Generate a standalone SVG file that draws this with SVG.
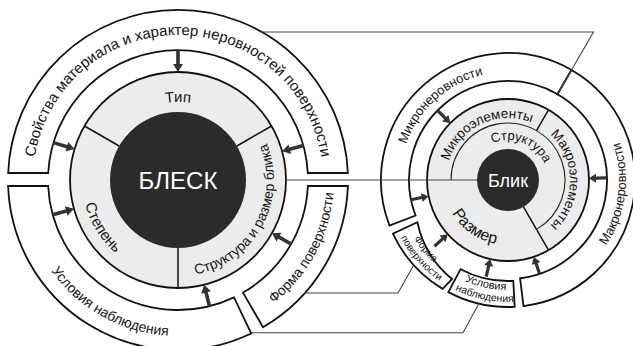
<svg xmlns="http://www.w3.org/2000/svg" width="633" height="346" viewBox="0 0 633 346">
<style>
.ring{fill:#fff;stroke:#111;stroke-width:1.8}
.grey{fill:#ececec;stroke:#111;stroke-width:1.8}
.dark{fill:#2b2b2b}
.div{stroke:#111;stroke-width:1.5;fill:none}
.thin{stroke:#222;stroke-width:1.1;fill:none}
.conn{stroke:#444;stroke-width:1.1;fill:none}
.arr{fill:#333}
text{font-family:"Liberation Sans",Arial,sans-serif;fill:#151515}
.w{fill:#fff}
</style>
<defs>
<path id="arL" d="M0,0 L8,-5 L8,-1.8 L22,-1.8 L22,1.8 L8,1.8 L8,5 Z"/>
<path id="arR" d="M0,0 L7,-4.5 L7,-1.6 L18,-1.6 L18,1.6 L7,1.6 L7,4.5 Z"/>
<!-- left text paths (local to 178,180) -->
<path id="tpSv" d="M-144.45,12.64 A145,145 0 1,1 144.45,12.64"/>
<path id="tpUs" d="M-155.41,13.6 A156,156 0 0,0 70.82,139"/>
<path id="tpFo" d="M78,135.1 A156,156 0 0,0 155.79,-8.16"/>
<path id="tpTip" d="M-67.55,-39 A78,78 0 0,1 67.55,-39"/>
<path id="tpSt" d="M-84.76,-45.07 A96,96 0 0,0 3.35,95.94"/>
<path id="tpSr" d="M2.51,95.97 A96,96 0 0,0 81.85,-50.16"/>
<!-- right text paths (local to 508,180) -->
<path id="tpStr" d="M-32.36,-23.51 A40,40 0 0,1 39.78,4.18"/>
<path id="tpMikE" d="M-59.89,16.05 A62,62 0 0,1 50.79,-35.56"/>
<path id="tpMakE" d="M21.2,-58.26 A62,62 0 0,1 21.2,58.26"/>
<path id="tpRaz" d="M-64.75,5.67 A65,65 0 0,0 16.82,62.79"/>
<path id="tpMikN" d="M-93.53,54 A108,108 0 0,1 63.48,-87.37"/>
<path id="tpMakN" d="M20.49,116.2 A118,118 0 0,0 49.87,-106.94"/>
<path id="tpF1" d="M-110.58,9.67 A111,111 0 0,0 -28.73,107.22"/>
<path id="tpF2" d="M-121.09,14.87 A122,122 0 0,0 -27.44,118.87"/>
<path id="tpU1" d="M-80.45,75.02 A110,110 0 0,0 42.98,101.26"/>
<path id="tpU2" d="M-88.5,83.98 A122,122 0 0,0 48.65,111.88"/>
</defs>

<g transform="translate(178,180)">
  <g id="svoistva">
    <path class="ring" d="M-169.86,-7 A170,170 0 0,1 169.86,-7 L129.81,-7 A130,130 0 0,0 -129.81,-7 Z"/>
    <text font-size="15"><textPath href="#tpSv" startOffset="50%" text-anchor="middle">Свойства материала и характер неровностей поверхности</textPath></text>
  </g>
  <g id="usloviya">
    <path class="ring" d="M-169.89,6 A170,170 0 0,0 73.19,153.44 L55.97,117.33 A130,130 0 0,1 -129.86,6 Z"/>
    <text font-size="14"><textPath href="#tpUs" startOffset="50%" text-anchor="middle">Условия наблюдения</textPath></text>
  </g>
  <g id="forma">
    <path class="ring" d="M169.89,6 A170,170 0 0,1 85,147.22 L65,112.58 A130,130 0 0,0 129.86,6 Z"/>
    <text font-size="14"><textPath href="#tpFo" startOffset="50%" text-anchor="middle">Форма поверхности</textPath></text>
  </g>
  <g id="blesk">
    <circle class="grey" r="108"/>
    <path class="div" d="M-58.89,-34 L-93.53,-54 M58.89,-34 L93.53,-54 M0,68 L0,108"/>
    <circle class="dark" r="68"/>
    <text class="w" y="9" font-size="24" text-anchor="middle">БЛЕСК</text>
    <text font-size="15"><textPath href="#tpTip" startOffset="50%" text-anchor="middle">Тип</textPath></text>
    <text font-size="15"><textPath href="#tpSt" startOffset="50%" text-anchor="middle">Степень</textPath></text>
    <text font-size="14"><textPath href="#tpSr" startOffset="50%" text-anchor="middle">Структура и размер блика</textPath></text>
  </g>
  <g id="arrows-left" class="arr">
    <use href="#arL" transform="rotate(-90) translate(108,0)"/>
    <use href="#arL" transform="rotate(-15.4) translate(108,0)"/>
    <use href="#arL" transform="rotate(29.5) translate(108,0)"/>
    <use href="#arL" transform="rotate(76) translate(108,0)"/>
    <use href="#arL" transform="rotate(164.5) translate(108,0)"/>
    <use href="#arL" transform="rotate(196.7) translate(108,0)"/>
  </g>
</g>

<g transform="translate(508,180)">
  <g id="mikronerovnosti">
    <path class="ring" d="M-118.56,45.51 A127,127 0 0,1 63.5,-109.99 L49.5,-85.74 A99,99 0 0,0 -92.42,35.48 Z"/>
    <text font-size="13"><textPath href="#tpMikN" startOffset="50%" text-anchor="middle">Микронеровности</textPath></text>
  </g>
  <g id="makronerovnosti">
    <path class="ring" d="M63.5,-109.99 A127,127 0 0,1 15.48,126.05 L12.07,98.26 A99,99 0 0,0 49.5,-85.74 Z"/>
    <text font-size="13"><textPath href="#tpMakN" startOffset="50%" text-anchor="middle">Макронеровности</textPath></text>
  </g>
  <g id="forma-box">
    <path class="ring" d="M-115.1,53.67 A127,127 0 0,0 -65.41,108.86 L-56,99 A100,100 0 0,1 -90.63,42.26 Z"/>
    <text font-size="10"><textPath href="#tpF1" startOffset="50%" text-anchor="middle">Форма</textPath></text>
    <text font-size="10"><textPath href="#tpF2" startOffset="50%" text-anchor="middle">поверхности</textPath></text>
  </g>
  <g id="usloviya-box">
    <path class="ring" d="M-59.62,112.13 A127,127 0 0,0 6.65,126.83 L5.29,100.86 A101,101 0 0,1 -47.42,89.18 Z"/>
    <text font-size="11"><textPath href="#tpU1" startOffset="50%" text-anchor="middle">Условия</textPath></text>
    <text font-size="10.5"><textPath href="#tpU2" startOffset="50%" text-anchor="middle">наблюдения</textPath></text>
  </g>
  <g id="blik">
    <circle class="grey" r="81"/>
    <path class="thin" d="M-57,0 A57,57 0 1,1 28.5,49.36"/>
    <path class="div" d="M28.5,-49.36 L40.5,-70.15 M15.5,26.85 L40.5,70.15"/>
    <circle class="dark" r="31"/>
    <text class="w" y="6.5" font-size="18" text-anchor="middle">Блик</text>
    <text font-size="13"><textPath href="#tpStr" startOffset="50%" text-anchor="middle">Структура</textPath></text>
    <text font-size="13.5"><textPath href="#tpMikE" startOffset="50%" text-anchor="middle">Микроэлементы</textPath></text>
    <text font-size="13.5"><textPath href="#tpMakE" startOffset="50%" text-anchor="middle">Макроэлементы</textPath></text>
    <text font-size="16"><textPath href="#tpRaz" startOffset="50%" text-anchor="middle">Размер</textPath></text>
  </g>
  <g id="arrows-right" class="arr">
    <use href="#arR" transform="rotate(-135.4) translate(81,0)"/>
    <use href="#arR" transform="rotate(168.5) translate(81,0)"/>
    <use href="#arR" transform="rotate(138) translate(81,0)"/>
    <use href="#arR" transform="rotate(102.7) translate(81,0)"/>
    <use href="#arR" transform="rotate(71.4) translate(81,0)"/>
    <use href="#arR" transform="rotate(-1.2) translate(81,0)"/>
  </g>
</g>

<g id="connectors" class="conn">
  <path d="M261.6,32 H593.45 L557.5,94.26"/>
  <path d="M286,180 H477"/>
  <path d="M305,293 H398 L413.5,265.5"/>
  <path d="M251.2,332.8 H463 L479,303.6"/>
</g>
</svg>
